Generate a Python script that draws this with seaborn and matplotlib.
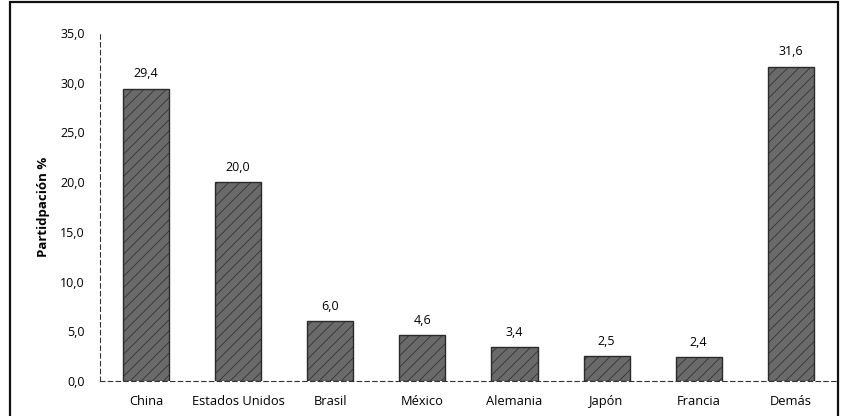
import matplotlib
matplotlib.use("Agg")
import matplotlib.pyplot as plt
import seaborn as sns
import pandas as pd
from matplotlib.ticker import FuncFormatter, FixedLocator
from matplotlib.patches import Rectangle

categories = ["China", "Estados Unidos", "Brasil", "México", "Alemania", "Japón", "Francia", "Demás"]
values = [29.4, 20.0, 6.0, 4.6, 3.4, 2.5, 2.4, 31.6]
yticks = [0, 5, 10, 15, 20, 25, 30, 35]
ylabel = "Partidpación %"

sns.set_theme(style="white")
plt.rcParams['font.family'] = ['Open Sans', 'DejaVu Sans']
plt.rcParams['hatch.color'] = '#505050'
plt.rcParams['hatch.linewidth'] = 0.5

df = pd.DataFrame({"pais": categories, "valor": values})

fig = plt.figure(figsize=(8.41, 4.16), dpi=100)
ax = fig.add_axes([0.119, 0.084, 0.876, 0.837])

sns.barplot(data=df, x="pais", y="valor", color="#6a6a6a", width=0.5,
            edgecolor="#2a2a2a", linewidth=1.0, saturation=1, ax=ax)
for p in ax.patches:
    p.set_hatch("///")

ax.set_xlim(-0.5, len(categories) - 0.5)
ax.set_ylim(0, 35)
ax.yaxis.set_major_locator(FixedLocator(yticks))
ax.yaxis.set_major_formatter(FuncFormatter(lambda v, _: f"{v:.1f}".replace(".", ",")))

for i, v in enumerate(values):
    ax.annotate(f"{v:.1f}".replace(".", ","), (i, v), xytext=(0, 6),
                textcoords="offset points", ha="center", va="bottom",
                fontsize=9, fontweight="medium", color="#000000")

ax.set_xlabel("")
ax.set_ylabel(ylabel, fontsize=9.5, fontweight="bold", color="#000000", labelpad=7)
ax.tick_params(axis="x", which="major", length=0, labelsize=9.3, pad=10, colors="#000000")
ax.tick_params(axis="y", which="major", length=3, direction="out", labelsize=9,
               pad=8, colors="#000000")
for lab in ax.get_xticklabels() + ax.get_yticklabels():
    lab.set_fontweight("medium")
ax.set_xticks([i + 0.5 for i in range(len(categories))], minor=True)
ax.tick_params(axis="x", which="minor", length=4, direction="in", color="#222222", width=0.8)

for s in ["top", "right"]:
    ax.spines[s].set_visible(False)
for s in ["left", "bottom"]:
    ax.spines[s].set_linestyle((0, (4, 3)))
    ax.spines[s].set_linewidth(0.8)
    ax.spines[s].set_color("#333333")

fig.patches.append(Rectangle((0.012, -0.1), 0.985, 1.095, transform=fig.transFigure,
                             fill=False, edgecolor="#111111", linewidth=1.6))

fig.savefig("out.png", dpi=100)
